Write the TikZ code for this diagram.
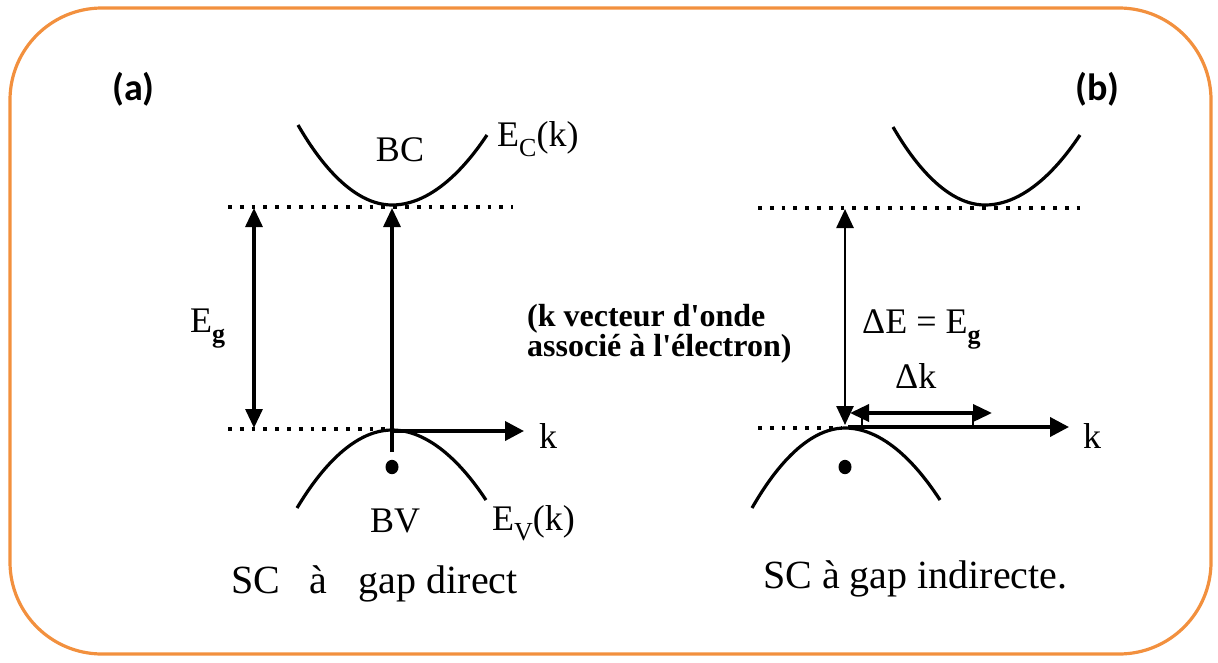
\documentclass[tikz,border=0pt]{standalone}
\usepackage{fontspec}
\setmainfont{Liberation Serif}
\newfontfamily\calib{Carlito}
\usetikzlibrary{arrows.meta}
\definecolor{frameorange}{RGB}{242,144,62}
\newcommand\lowsub[1]{\raisebox{-0.28em}{\fontsize{26}{26}\selectfont #1}}
\begin{document}
\begin{tikzpicture}[x=1pt,y=-1pt,
  band/.style={line width=3.2pt},
  dotline/.style={line width=3.8pt, dash pattern=on 3.8pt off 8pt},
  axisarrow/.style={line width=3.8pt,-{Triangle[length=19pt,width=19pt]}},
  uparrow/.style={line width=3.2pt,-{Triangle[length=19pt,width=17pt]}},
  twoarrow/.style={line width=3.2pt,{Triangle[length=19pt,width=17pt]}-{Triangle[length=19pt,width=17pt]}},
  tick/.style={line width=2.6pt},
  lbl/.style={font=\fontsize{36}{36}\selectfont, inner sep=0pt},
  sub/.style={font=\fontsize{40}{40}\selectfont, inner sep=0pt},
  note/.style={font=\fontsize{32}{30}\selectfont\bfseries, inner sep=0pt, align=left},
  tag/.style={font=\calib\fontsize{38}{38}\selectfont\bfseries, inner sep=0pt}
]
\useasboundingbox (0,0) rectangle (1218,662);
\draw[frameorange, line width=3.2pt, rounded corners=92pt] (10,8) rectangle (1211,654);

% ---------- (a) direct gap ----------
\coordinate (bcminA) at (392,205);
\coordinate (bvmaxA) at (392,430);
\draw[band] (298,125) parabola bend (bcminA) (487,135);
\draw[band] (297,508) parabola bend (bvmaxA) (486,500);
\coordinate (dtAl) at (228,207); \coordinate (dtAr) at (513,207);
\coordinate (dbAl) at (228,429); \coordinate (dbAr) at (392,429);
\draw[dotline] (dtAl) -- (dtAr);
\draw[dotline] (dbAl) -- (dbAr);
\coordinate (egT) at (254,208); \coordinate (egB) at (254,428);
\draw[twoarrow] (egT) -- (egB);
\coordinate (vAs) at (392,452); \coordinate (vAt) at (392,208);
\draw[uparrow] (vAs) -- (vAt);
\coordinate (kAs) at (392,431); \coordinate (kAe) at (524,431);
\draw[axisarrow] (kAs) -- (kAe);
\fill (392,467) ellipse (6.5pt and 7.2pt);

\node[lbl, anchor=base] (bc) at (400,161) {BC};
\node[lbl, anchor=base west] (ecA) at (497,146) {E\lowsub{C}(k)};
\node[lbl, anchor=base] (bv) at (395,532) {BV};
\node[lbl, anchor=base west] (evA) at (492,530) {E\lowsub{V}(k)};
\node[lbl, anchor=base west] (kA) at (539,448) {k};
\node[lbl, anchor=base west] (egA) at (190,332) {E\lowsub{\bfseries g}};
\node[sub, anchor=base west] (subA) at (231,593) {SC\hspace{29pt}à\hspace{32pt}gap direct};

% ---------- middle note ----------
\node[note, anchor=base west] (noteM) at (527,356) {(k vecteur d\textquotesingle onde\\associé à l\textquotesingle électron)};

% ---------- (b) indirect gap ----------
\coordinate (bcminB) at (985,205);
\coordinate (bvmaxB) at (845,428);
\draw[band] (893,127) parabola bend (bcminB) (1080,135);
\draw[band] (752,508) parabola bend (bvmaxB) (940,500);
\coordinate (dtBl) at (758,208); \coordinate (dtBr) at (1082,208);
\coordinate (dbBl) at (758,428); \coordinate (dbBr) at (842,428);
\draw[dotline] (dtBl) -- (dtBr);
\draw[dotline] (dbBl) -- (dbBr);
\coordinate (vBt) at (845,209); \coordinate (vBb) at (845,425);
\draw[twoarrow, line width=2.6pt] (vBt) -- (vBb);
\coordinate (dkS) at (850,413); \coordinate (dkE) at (992,413);
\draw[twoarrow, line width=3.6pt] (dkS) -- (dkE);
\coordinate (kBs) at (848,427); \coordinate (kBe) at (1069,427);
\draw[axisarrow] (kBs) -- (kBe);
\coordinate (tk1a) at (973,413); \coordinate (tk1b) at (973,427);
\coordinate (tk2a) at (862,413); \coordinate (tk2b) at (862,427);
\draw[tick] (tk1a) -- (tk1b);
\draw[tick] (tk2a) -- (tk2b);
\fill (845,467) ellipse (6.5pt and 7.2pt);

\node[lbl, anchor=base west] (kB) at (1083,448) {k};
\node[lbl, anchor=base west] (dE) at (862,333) {ΔE = E\lowsub{\bfseries g}};
\node[lbl, anchor=base west] (dk) at (895,388) {Δk};
\node[sub, anchor=base west] (subB) at (763,588) {SC à gap indirecte.};

% ---------- tags ----------
\node[tag, anchor=base west] (ta) at (112,100) {(a)};
\node[tag, anchor=base west] (tb) at (1075,100) {(b)};
\end{tikzpicture}
\end{document}
